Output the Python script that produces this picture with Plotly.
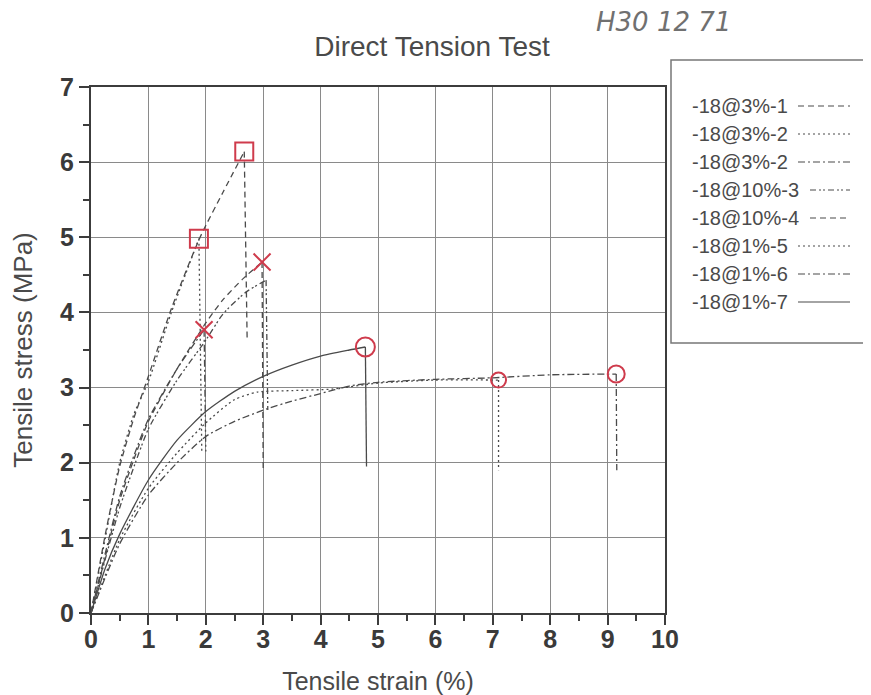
import plotly.graph_objects as go

# ---------------- data ----------------
series_names = ["-18@3%-1", "-18@3%-2", "-18@3%-2", "-18@10%-3",
                "-18@10%-4", "-18@1%-5", "-18@1%-6", "-18@1%-7"]

# -18@3%-1 (dashed)
s1_strain = [0, 0.25, 0.5, 0.75, 1.0, 1.4, 1.9, 2.3, 2.67]
s1_stress = [0, 1.05, 1.95, 2.6, 3.15, 4.05, 5.0, 5.6, 6.14]
s1_drop = [2.72, 3.65]

# -18@3%-2 (dotted)
s2_strain = [0, 0.25, 0.5, 0.75, 1.0, 1.4, 1.88]
s2_stress = [0, 1.0, 2.0, 2.65, 3.08, 4.0, 4.98]
s2_drop = [1.93, 2.15]

# -18@3%-2 (dash-dot)
s3_strain = [0, 0.25, 0.5, 0.75, 1.0, 1.5, 1.97]
s3_stress = [0, 0.8, 1.55, 2.1, 2.58, 3.25, 3.77]
s3_drop = [2.0, 2.15]

# -18@10%-3 (dash-dot-dot)
s4_strain = [0, 0.25, 0.5, 0.75, 1.0, 1.5, 2.0, 2.3, 2.7, 3.05]
s4_stress = [0, 0.72, 1.4, 1.95, 2.45, 3.1, 3.63, 3.98, 4.27, 4.43]
s4_drop = [3.08, 2.7]

# -18@10%-4 (dashed)
s5_strain = [0, 0.25, 0.5, 0.75, 1.0, 1.5, 2.0, 2.3, 2.65, 2.98]
s5_stress = [0, 0.75, 1.5, 2.05, 2.55, 3.25, 3.86, 4.17, 4.45, 4.67]
s5_drop = [3.0, 1.9]

# -18@1%-5 (dotted)
s6_strain = [0, 0.5, 1.0, 1.5, 2.0, 2.5, 2.9, 3.5, 4.2, 5.0, 6.0, 7.1]
s6_stress = [0, 0.98, 1.66, 2.13, 2.53, 2.84, 2.94, 2.96, 2.98, 3.06, 3.1, 3.1]
s6_drop = [7.1, 1.9]

# -18@1%-6 (dash-dot)
s7_strain = [0, 0.5, 1.0, 1.5, 2.0, 2.5, 3.0, 3.5, 4.0, 4.5, 5.0, 6.0, 7.0, 8.0, 9.15]
s7_stress = [0, 0.92, 1.57, 2.0, 2.35, 2.55, 2.7, 2.82, 2.92, 3.02, 3.07, 3.11, 3.13, 3.17, 3.18]
s7_drop = [9.16, 1.9]

# -18@1%-7 (solid)
s8_strain = [0, 0.25, 0.5, 1.0, 1.5, 2.0, 2.5, 3.0, 3.5, 4.0, 4.5, 4.78]
s8_stress = [0, 0.6, 1.05, 1.77, 2.3, 2.68, 2.95, 3.15, 3.3, 3.42, 3.5, 3.54]
s8_drop = [4.8, 1.95]

# hand-drawn marks at the failure peaks
peak_symbols = ["square-open", "square-open", "x-thin-open", None,
                "x-thin-open", "circle-open", "circle-open", "circle-open"]
peak_sizes = [18, 18, 17, 0, 17, 15, 17, 19]

x_ticks = [0, 1, 2, 3, 4, 5, 6, 7, 8, 9, 10]
y_ticks = [0, 1, 2, 3, 4, 5, 6, 7]

# ---------------- styling ----------------
dash_styles = ["6px,4px", "2px,3px", "7px,3px,2px,3px", "6px,3px,2px,2px,2px,3px",
               "6px,4px", "2px,3px", "7px,3px,2px,3px", "solid"]
line_col = "#4a4a4a"
red = "#cf3b4c"
FONT = "Liberation Sans, Arial, sans-serif"

series = [
    (s1_strain, s1_stress, s1_drop), (s2_strain, s2_stress, s2_drop),
    (s3_strain, s3_stress, s3_drop), (s4_strain, s4_stress, s4_drop),
    (s5_strain, s5_stress, s5_drop), (s6_strain, s6_stress, s6_drop),
    (s7_strain, s7_stress, s7_drop), (s8_strain, s8_stress, s8_drop),
]

fig = go.Figure()
for i, (xs, ys, drop) in enumerate(series):
    fig.add_trace(go.Scatter(
        x=xs, y=ys, mode="lines", name=series_names[i], showlegend=False,
        line=dict(color=line_col, width=1.3, dash=dash_styles[i], shape="spline", smoothing=0.6),
    ))
    fig.add_trace(go.Scatter(
        x=[xs[-1], drop[0]], y=[ys[-1], drop[1]], mode="lines", showlegend=False,
        hoverinfo="skip", line=dict(color=line_col, width=1.3, dash=dash_styles[i]),
    ))

for i, (xs, ys, drop) in enumerate(series):
    if peak_symbols[i] is None:
        continue
    fig.add_trace(go.Scatter(
        x=[xs[-1]], y=[ys[-1]], mode="markers", showlegend=False, hoverinfo="skip",
        marker=dict(symbol=peak_symbols[i], size=peak_sizes[i], color=red,
                    line=dict(color=red, width=2)),
    ))

# page geometry (the page body adds an 8 px offset)
OFF = 8
W, H = 871 - OFF, 695 - OFF
# plot-area geometry in reference pixels
L, R, T, B = 91, 665, 87, 613


def px_x(px):
    return (px - L) / (R - L)


def px_y(py):
    return (B - py) / (B - T)


# legend (text first, then line sample, as in the original)
shapes = [dict(type="rect", xref="paper", yref="paper",
               x0=px_x(671), x1=px_x(885), y0=px_y(343), y1=px_y(60),
               line=dict(color="#777777", width=1.5), fillcolor="rgba(0,0,0,0)")]
annotations = []
row_y = [106, 134, 162, 190, 218, 246, 274, 302]
for i, name in enumerate(series_names):
    start = 798 if len(name) == 8 else 810
    annotations.append(dict(text=name, xref="paper", yref="paper", x=px_x(690), y=px_y(row_y[i]),
                            xanchor="left", yanchor="middle", showarrow=False,
                            font=dict(family=FONT, size=20, color="#4a4a4a")))
    shapes.append(dict(type="line", xref="paper", yref="paper",
                       x0=px_x(start), x1=px_x(850), y0=px_y(row_y[i]), y1=px_y(row_y[i]),
                       line=dict(color=line_col, width=1.2, dash=dash_styles[i])))

# handwritten note in the top right corner
annotations.append(dict(text="H30 12 71", xref="paper", yref="paper", x=px_x(663), y=px_y(22),
                        xanchor="center", yanchor="middle", showarrow=False,
                        font=dict(family="DejaVu Sans, sans-serif", size=26, color="#707070",
                                  style="italic")))

axis_common = dict(
    showline=True, linecolor="#3c3c3c", linewidth=2, mirror=True,
    showgrid=True, gridcolor="#8a8a8a", gridwidth=1.2,
    ticks="outside", ticklen=10, tickwidth=1.5, tickcolor="#3c3c3c",
    tickfont=dict(family=FONT, size=25, color="#3a3a3a", weight="bold"),
    zeroline=False, automargin=False,
)

fig.update_layout(
    width=W, height=H,
    margin=dict(l=L - OFF, r=871 - R, t=T - OFF, b=695 - B),
    paper_bgcolor="white", plot_bgcolor="white",
    title=dict(text="Direct Tension Test", x=(432 - OFF) / W, xref="container", xanchor="center",
               y=1 - (46 - OFF) / H, yref="container", yanchor="middle",
               font=dict(family=FONT, size=28, color="#4a4a4a")),
    xaxis=dict(range=[0, 10], tickvals=x_ticks, ticklabelstandoff=-7,
               minor=dict(dtick=0.5, ticks="outside", ticklen=6, tickcolor="#3c3c3c", showgrid=False),
               title=dict(text="Tensile strain (%)", standoff=20,
                          font=dict(family=FONT, size=25, color="#4a4a4a")),
               **axis_common),
    yaxis=dict(range=[0, 7], tickvals=y_ticks,
               minor=dict(dtick=0.5, ticks="outside", ticklen=6, tickcolor="#3c3c3c", showgrid=False),
               title=dict(text="Tensile stress (MPa)", standoff=22,
                          font=dict(family=FONT, size=26, color="#4a4a4a")),
               **axis_common),
    shapes=shapes,
    annotations=annotations,
    showlegend=False,
)

fig.write_html("out.html")
